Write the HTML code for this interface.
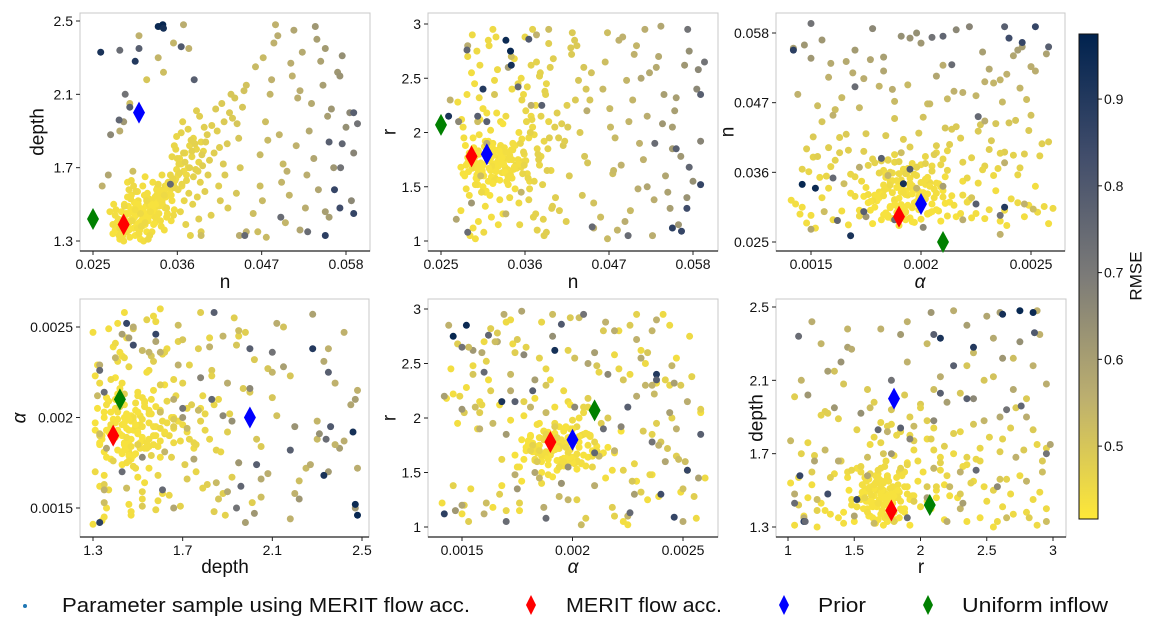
<!DOCTYPE html>
<html><head><meta charset="utf-8"><style>
html,body{margin:0;padding:0;background:#fff;}
svg{display:block;font-family:"Liberation Sans","DejaVu Sans",sans-serif;}
</style></head><body>
<svg id="fig" width="1154" height="629" viewBox="0 0 1154 629" xmlns="http://www.w3.org/2000/svg">
<defs>
<linearGradient id="cbgrad" x1="0" y1="1" x2="0" y2="0">
<stop offset="0" stop-color="#fee838"/><stop offset="0.25" stop-color="#bcaf6f"/><stop offset="0.5" stop-color="#7c7b78"/><stop offset="0.75" stop-color="#414d6b"/><stop offset="1" stop-color="#00224e"/>
</linearGradient>
</defs>
</svg>
<script>
// samples: [n, depth, r, alpha, rmse]
const samples = [
// tight cluster
[.0302,1.42,1.72,.00191,.43],[.0315,1.47,1.65,.00188,.43],[.0288,1.38,1.80,.00195,.43],[.0321,1.51,1.58,.00201,.44],[.0296,1.45,1.69,.00184,.43],
[.0333,1.55,1.76,.00197,.44],[.0279,1.36,1.62,.00178,.43],[.0310,1.40,1.85,.00205,.43],[.0325,1.48,1.74,.00193,.43],[.0291,1.50,1.67,.00212,.44],
[.0306,1.44,1.60,.00186,.43],[.0318,1.39,1.71,.00199,.43],[.0285,1.41,1.77,.00182,.43],[.0299,1.53,1.83,.00208,.44],[.0337,1.58,1.66,.00190,.44],
[.0312,1.46,1.55,.00176,.43],[.0294,1.35,1.73,.00203,.43],[.0328,1.52,1.88,.00187,.44],[.0304,1.43,1.63,.00196,.43],[.0283,1.37,1.70,.00209,.43],
[.0319,1.49,1.79,.00180,.43],[.0341,1.56,1.61,.00202,.44],[.0308,1.45,1.92,.00194,.43],[.0297,1.40,1.57,.00189,.43],[.0323,1.50,1.68,.00214,.44],
[.0289,1.33,1.75,.00185,.43],[.0314,1.47,1.82,.00198,.43],[.0301,1.42,1.64,.00207,.43],[.0331,1.54,1.72,.00183,.44],[.0293,1.39,1.86,.00192,.43],
[.0316,1.44,1.59,.00200,.43],[.0276,1.34,1.68,.00190,.43],[.0326,1.51,1.77,.00196,.44],[.0305,1.48,1.70,.00179,.43],[.0344,1.60,1.84,.00204,.45],
[.0298,1.41,1.52,.00193,.43],[.0311,1.36,1.74,.00211,.43],[.0287,1.46,1.81,.00187,.43],[.0322,1.43,1.66,.00174,.43],[.0309,1.52,1.90,.00199,.44],
[.0336,1.49,1.62,.00195,.44],[.0295,1.38,1.78,.00203,.43],[.0317,1.55,1.69,.00188,.44],[.0281,1.40,1.60,.00197,.43],[.0329,1.46,1.83,.00181,.44],
[.0303,1.37,1.71,.00192,.43],[.0320,1.53,1.56,.00206,.44],[.0292,1.44,1.95,.00185,.43],[.0313,1.41,1.67,.00213,.43],[.0339,1.57,1.75,.00190,.44],
[.0300,1.47,1.80,.00177,.43],[.0286,1.35,1.64,.00200,.43],[.0324,1.50,1.72,.00194,.44],[.0307,1.39,1.87,.00189,.43],[.0318,1.45,1.53,.00202,.43],
[.0290,1.42,1.73,.00216,.43],[.0334,1.59,1.68,.00184,.44],[.0311,1.48,1.78,.00198,.43],[.0297,1.36,1.61,.00193,.43],[.0327,1.44,1.85,.00207,.44],
[.0348,1.62,1.70,.00191,.45],[.0304,1.51,1.65,.00186,.43],[.0282,1.38,1.88,.00196,.43],[.0315,1.43,1.76,.00180,.43],[.0296,1.49,1.58,.00204,.43],
[.0330,1.47,1.63,.00199,.44],[.0309,1.34,1.81,.00188,.43],[.0321,1.56,1.69,.00210,.44],[.0293,1.45,1.74,.00183,.43],[.0340,1.52,1.79,.00195,.44],
// extra dense cluster
[.0332,1.50,1.71,.00192,.43],[.0345,1.54,1.66,.00186,.44],[.0328,1.47,1.80,.00201,.43],[.0351,1.58,1.75,.00195,.44],[.0336,1.52,1.62,.00189,.43],
[.0342,1.49,1.84,.00208,.44],[.0325,1.44,1.69,.00182,.43],[.0357,1.63,1.73,.00197,.45],[.0338,1.55,1.59,.00204,.44],[.0330,1.46,1.77,.00193,.43],
[.0347,1.60,1.88,.00187,.44],[.0322,1.41,1.64,.00199,.43],[.0353,1.52,1.70,.00211,.44],[.0335,1.57,1.82,.00185,.44],[.0327,1.49,1.56,.00196,.43],
[.0349,1.55,1.67,.00202,.44],[.0319,1.43,1.79,.00190,.43],[.0361,1.66,1.74,.00194,.45],[.0340,1.51,1.61,.00183,.44],[.0333,1.58,1.86,.00206,.44],
[.0355,1.61,1.68,.00198,.45],[.0324,1.46,1.73,.00179,.43],[.0344,1.48,1.90,.00200,.44],[.0337,1.53,1.65,.00209,.44],[.0329,1.39,1.76,.00191,.43],
[.0359,1.69,1.80,.00187,.45],[.0343,1.57,1.58,.00195,.44],[.0326,1.50,1.83,.00203,.43],[.0352,1.55,1.71,.00184,.44],[.0334,1.44,1.63,.00197,.43],
[.0365,1.72,1.95,.00192,.45],[.0370,1.78,2.05,.00205,.45],[.0376,1.82,1.85,.00188,.46],[.0368,1.68,2.15,.00198,.45],[.0381,1.86,1.78,.00210,.46],
[.0363,1.75,1.62,.00183,.45],[.0374,1.70,2.25,.00196,.45],[.0385,1.80,1.92,.00202,.46],[.0358,1.64,2.35,.00190,.45],[.0379,1.76,1.70,.00185,.46],
[.0391,1.84,2.10,.00207,.46],[.0366,1.60,1.55,.00194,.45],[.0388,1.73,2.45,.00188,.46],[.0372,1.66,1.98,.00200,.45],[.0394,1.79,1.65,.00212,.46],
[.0305,1.33,1.50,.00186,.43],[.0312,1.31,1.92,.00197,.43],[.0298,1.32,1.66,.00205,.43],[.0320,1.35,1.84,.00181,.43],[.0285,1.31,1.72,.00193,.43],
[.0347,1.45,1.48,.00189,.44],[.0352,1.41,2.00,.00203,.44],[.0339,1.38,1.60,.00196,.44],[.0356,1.47,1.94,.00184,.44],[.0343,1.36,1.75,.00207,.44],
[.0315,1.60,2.02,.00178,.44],[.0308,1.57,1.45,.00215,.44],[.0300,1.55,1.98,.00172,.44],[.0295,1.62,1.52,.00218,.44],[.0318,1.65,1.90,.00200,.44],
[.0328,1.62,2.10,.00192,.44],[.0340,1.66,1.40,.00186,.45],[.0331,1.40,2.08,.00210,.43],[.0314,1.38,1.42,.00177,.43],[.0346,1.43,1.68,.00219,.44],
[.0301,1.46,2.12,.00199,.43],[.0309,1.50,1.46,.00191,.43],[.0323,1.53,2.18,.00183,.44],[.0317,1.40,1.88,.00222,.43],[.0336,1.45,1.55,.00175,.44],
// low n / depth but wide r, alpha
[.0284,1.33,2.35,.00162,.44],[.0301,1.41,2.62,.00231,.45],[.0292,1.36,1.12,.00150,.44],[.0312,1.45,2.85,.00244,.45],[.0276,1.39,1.28,.00239,.44],
[.0320,1.52,2.48,.00155,.45],[.0288,1.31,1.05,.00223,.44],[.0305,1.47,2.22,.00146,.44],[.0297,1.58,2.75,.00253,.45],[.0327,1.35,1.38,.00168,.44],
[.0279,1.44,2.05,.00258,.44],[.0316,1.30,1.22,.00141,.44],[.0343,1.55,2.40,.00226,.45],[.0291,1.49,2.90,.00172,.45],[.0308,1.37,1.32,.00249,.44],
[.0335,1.61,2.15,.00158,.45],[.0283,1.42,1.48,.00236,.44],[.0324,1.33,2.58,.00219,.45],[.0299,1.53,1.18,.00164,.44],[.0272,1.46,2.28,.00152,.44],
[.0318,1.40,2.95,.00241,.45],[.0287,1.32,1.42,.00229,.44],[.0346,1.48,2.68,.00173,.45],[.0306,1.57,1.08,.00256,.45],[.0294,1.35,2.45,.00145,.44],
[.0331,1.43,1.25,.00234,.44],[.0277,1.50,2.12,.00167,.44],[.0313,1.38,2.80,.00221,.45],[.0352,1.59,1.35,.00154,.45],[.0290,1.30,2.55,.00247,.44],
[.0325,1.46,1.15,.00176,.44],[.0300,1.63,2.32,.00238,.45],[.0285,1.37,2.70,.00160,.45],[.0338,1.41,1.52,.00252,.44],[.0310,1.34,2.18,.00143,.44],
[.0295,1.54,1.02,.00225,.44],[.0355,1.44,2.50,.00233,.45],[.0280,1.47,1.95,.00148,.44],[.0322,1.31,2.88,.00170,.45],[.0303,1.60,1.45,.00260,.45],
// trend / medium
[.0362,1.72,2.10,.00205,.46],[.0378,1.85,1.75,.00182,.47],[.0351,1.66,2.45,.00221,.46],[.0395,1.92,1.30,.00167,.48],[.0368,1.78,2.62,.00198,.47],
[.0410,2.02,1.88,.00232,.49],[.0384,1.69,1.20,.00151,.47],[.0356,1.82,2.30,.00244,.46],[.0421,1.95,2.72,.00175,.49],[.0372,1.63,1.55,.00209,.46],
[.0399,1.88,2.05,.00158,.48],[.0435,2.08,1.42,.00227,.50],[.0360,1.75,2.88,.00186,.46],[.0389,1.98,1.65,.00247,.48],[.0415,1.81,2.25,.00163,.48],
[.0376,1.70,1.10,.00219,.47],[.0447,2.12,2.55,.00201,.51],[.0392,1.77,1.95,.00238,.48],[.0365,1.89,1.38,.00146,.47],[.0428,2.00,2.80,.00214,.49],
[.0381,1.65,2.15,.00178,.47],[.0405,1.93,1.28,.00255,.48],[.0358,1.80,1.82,.00193,.46],[.0440,1.86,2.40,.00155,.50],[.0370,1.73,2.95,.00229,.47],
[.0418,2.05,1.60,.00184,.49],[.0387,1.68,2.35,.00242,.47],[.0353,1.76,1.15,.00170,.46],[.0432,1.97,2.00,.00216,.49],[.0397,1.84,2.68,.00148,.48],
[.0366,1.61,1.48,.00235,.46],[.0412,1.90,1.92,.00192,.48],[.0379,1.79,2.52,.00161,.47],[.0450,2.15,1.35,.00250,.51],[.0402,1.74,2.18,.00207,.48],
[.0359,1.87,1.70,.00181,.46],[.0425,1.83,2.85,.00226,.49],[.0385,2.01,1.05,.00153,.48],[.0363,1.67,2.42,.00212,.46],[.0438,1.94,1.78,.00240,.50],
[.0393,1.71,2.60,.00174,.48],[.0374,1.91,1.25,.00202,.47],[.0408,1.78,2.08,.00258,.48],[.0354,1.64,1.90,.00157,.46],[.0445,2.03,2.30,.00188,.50],
[.0383,1.83,1.52,.00223,.47],[.0420,1.72,2.78,.00166,.49],[.0367,1.95,2.00,.00245,.47],[.0400,1.66,1.40,.00195,.48],[.0430,2.10,2.48,.00211,.50],
[.0361,1.58,2.20,.00149,.46],[.0390,1.62,1.85,.00236,.47],[.0375,1.56,2.65,.00179,.47],[.0414,1.60,1.18,.00218,.48],[.0386,1.54,2.38,.00254,.47],
[.0357,1.59,1.62,.00168,.46],[.0422,1.66,2.92,.00199,.49],[.0396,1.57,1.32,.00231,.48],[.0369,1.52,2.12,.00159,.46],[.0442,1.70,1.72,.00243,.50],
[.0380,1.50,2.55,.00185,.47],[.0404,1.44,1.95,.00213,.48],[.0371,1.39,1.22,.00176,.47],[.0426,1.48,2.30,.00249,.49],[.0391,1.35,2.82,.00163,.48],
[.0364,1.46,1.58,.00228,.46],[.0416,1.52,2.05,.00151,.49],[.0388,1.42,1.08,.00206,.48],[.0437,1.56,2.60,.00234,.50],[.0377,1.33,1.80,.00190,.47],
// scattered
[.0462,2.25,2.40,.00172,.53],[.0488,2.48,2.88,.00215,.55],[.0475,1.95,1.62,.00248,.52],[.0510,2.20,1.90,.00158,.55],[.0523,2.33,2.55,.00231,.57],
[.0498,1.72,1.28,.00194,.53],[.0535,2.05,2.70,.00166,.57],[.0547,2.28,1.45,.00257,.59],[.0556,1.98,2.20,.00142,.60],[.0468,1.60,2.92,.00203,.52],
[.0515,1.82,1.75,.00239,.55],[.0542,2.40,2.35,.00183,.60],[.0481,2.10,1.10,.00225,.54],[.0569,2.22,2.62,.00155,.62],[.0529,1.66,1.38,.00210,.56],
[.0493,1.88,2.48,.00245,.54],[.0553,2.35,1.85,.00170,.61],[.0472,2.30,2.05,.00188,.53],[.0506,1.55,2.80,.00236,.54],[.0580,1.92,1.55,.00198,.64],
[.0459,1.45,1.22,.00161,.52],[.0520,2.12,2.15,.00252,.56],[.0538,1.75,2.98,.00177,.58],[.0486,2.38,1.70,.00219,.55],[.0561,2.02,1.15,.00147,.62],
[.0501,1.40,2.30,.00233,.54],[.0575,2.31,2.75,.00191,.64],[.0478,1.85,1.95,.00164,.53],[.0544,1.58,1.60,.00242,.58],[.0512,2.45,2.50,.00207,.58],
[.0465,1.35,2.65,.00153,.52],[.0550,2.15,1.30,.00228,.60],[.0496,1.62,2.10,.00181,.54],[.0585,2.00,2.40,.00216,.66],[.0527,1.48,1.05,.00250,.56],
[.0483,2.18,2.85,.00144,.55],[.0564,1.70,1.78,.00200,.62],[.0508,2.27,1.48,.00174,.56],[.0471,1.52,2.22,.00237,.53],[.0532,1.90,2.60,.00159,.57],
[.0590,1.78,1.92,.00222,.67],[.0491,2.42,1.18,.00187,.56],[.0558,1.43,2.32,.00246,.60],[.0517,2.08,2.95,.00169,.56],[.0476,1.32,1.65,.00212,.53],
[.0572,2.20,1.40,.00195,.63],[.0503,1.68,2.72,.00229,.55],[.0540,2.47,2.08,.00150,.62],[.0468,1.77,1.02,.00204,.53],[.0587,1.52,2.58,.00178,.66],
[.0320,2.18,2.35,.00223,.50],[.0342,2.22,2.70,.00165,.52],[.0310,2.42,1.90,.00247,.55],[.0355,2.38,1.45,.00185,.54],[.0298,2.05,2.10,.00156,.52],
[.0375,2.35,2.90,.00238,.55],[.0335,2.30,1.25,.00198,.54],[.0368,2.48,2.25,.00172,.56],[.0285,1.90,2.80,.00219,.56],[.0302,1.68,1.60,.00251,.52],
[.0450,1.35,1.12,.00160,.55],[.0441,1.33,2.20,.00229,.56],[.0391,1.33,2.95,.00191,.52],[.0520,1.36,1.50,.00183,.58],[.0553,1.46,2.05,.00244,.60],
[.0270,1.66,1.20,.00150,.58],[.0262,1.60,2.30,.00236,.55],[.0338,2.47,2.60,.00210,.60],[.0290,1.95,1.35,.00175,.62],[.0273,1.88,2.10,.00201,.66],
// dark / high rmse
[.0260,2.33,2.15,.00168,.92],[.0335,2.47,2.85,.00152,.95],[.0341,2.48,2.75,.00146,.96],[.0342,2.46,2.62,.00192,.93],[.0305,2.28,2.40,.00238,.90],
[.0553,1.33,1.12,.00142,.88],[.0565,1.58,1.09,.00246,.86],[.0572,1.48,1.30,.00240,.84],[.0590,1.45,1.52,.00252,.86],[.0365,2.36,2.86,.00195,.80],
[.0284,1.96,2.76,.00162,.76],[.0298,2.03,2.15,.00174,.78],[.0310,2.35,2.10,.00225,.78],[.0590,2.00,2.35,.00238,.78],[.0575,1.83,1.68,.00210,.76],
[.0558,1.84,1.85,.00258,.78],[.0382,2.18,2.25,.00182,.78],[.0495,1.43,1.05,.00170,.74],[.0530,1.35,1.90,.00214,.74],[.0351,1.61,2.42,.00160,.75],
[.0292,2.10,1.78,.00236,.72],[.0448,1.33,1.13,.00226,.75],[.0595,1.94,2.65,.00150,.72],[.0573,1.70,2.95,.00205,.72],[.0285,2.34,1.08,.00188,.74]
];
const markerNames = ["MERIT flow acc.", "Prior", "Uniform inflow"];
const markerColors = ["#ff0000", "#0000ff", "#008000"];
const markerN = [0.0290, 0.0310, 0.0250];
const markerDepth = [1.39, 2.00, 1.42];
const markerR = [1.78, 1.80, 2.07];
const markerAlpha = [0.00190, 0.00200, 0.00210];
const nTicks = [0.025, 0.036, 0.047, 0.058];
const depthTicks = [1.3, 1.7, 2.1, 2.5];
const rTicks = [1, 1.5, 2, 2.5, 3];
const alphaTicks = [0.0015, 0.002, 0.0025];
const cbTicks = [0.5, 0.6, 0.7, 0.8, 0.9];
const rmseMin = 0.416, rmseMax = 0.975;

const NS = "http://www.w3.org/2000/svg";
const svg = document.getElementById("fig");
function mk(tag, attrs, parent) {
  const e = document.createElementNS(NS, tag);
  for (const k in attrs) e.setAttribute(k, attrs[k]);
  (parent || svg).appendChild(e);
  return e;
}
function lin(d0, d1, r0, r1) { return v => r0 + (v - d0) * (r1 - r0) / (d1 - d0); }
const cstops = [[0,[0,34,78]],[0.25,[65,77,107]],[0.5,[124,123,120]],[0.75,[188,175,111]],[1,[254,232,56]]];
function cmap(v) {
  let t = 1 - (v - rmseMin) / (rmseMax - rmseMin);
  t = Math.max(0, Math.min(1, t));
  for (let i = 0; i < cstops.length - 1; i++) {
    const a = cstops[i], b = cstops[i+1];
    if (t <= b[0]) {
      const f = (t - a[0]) / (b[0] - a[0]);
      const c = a[1].map((x, j) => Math.round(x + f * (b[1][j] - x)));
      return "rgb(" + c.join(",") + ")";
    }
  }
  return "rgb(254,232,56)";
}
function fmt(v) { return String(v); }
const markerCols = [markerN, markerDepth, markerR, markerAlpha];
const panels = [
  {name:"n-vs-depth", L:80,R:370,T:13,B:251, xi:0, yi:1, xd:[0.025,0.058], xr:[93,346], yd:[2.5,1.3], yr:[21,241], xt:nTicks, yt:depthTicks, xl:"n", yl:"depth", xlx:225, xly:288, ylx:38},
  {name:"n-vs-r", L:428,R:718,T:13,B:251, xi:0, yi:2, xd:[0.025,0.058], xr:[441,693], yd:[3,1], yr:[24,241], xt:nTicks, yt:rTicks, xl:"n", yl:"r", xlx:573, xly:288, ylx:390},
  {name:"alpha-vs-n", L:776,R:1065,T:13,B:251, xi:3, yi:0, xd:[0.0015,0.0025], xr:[811,1031], yd:[0.058,0.025], yr:[33,242], xt:alphaTicks, yt:nTicks, xl:"α", yl:"n", xlx:920, xly:288, ylx:728},
  {name:"depth-vs-alpha", L:80,R:369,T:299,B:537, xi:1, yi:3, xd:[1.3,2.5], xr:[93,362], yd:[0.0025,0.0015], yr:[327,508], xt:depthTicks, yt:alphaTicks, xl:"depth", yl:"α", xlx:225, xly:573, ylx:20},
  {name:"alpha-vs-r", L:428,R:718,T:299,B:537, xi:3, yi:2, xd:[0.0015,0.0025], xr:[462,683], yd:[3,1], yr:[309,527], xt:alphaTicks, yt:rTicks, xl:"α", yl:"r", xlx:573, xly:573, ylx:390},
  {name:"r-vs-depth", L:776,R:1066,T:299,B:537, xi:2, yi:1, xd:[1,3], xr:[788,1053], yd:[2.5,1.3], yr:[307,527], xt:rTicks, yt:depthTicks, xl:"r", yl:"depth", xlx:921, xly:573, ylx:757}
];
panels.forEach(p => {
  const g = mk("g", {});
  
  
  const sx = lin(p.xd[0], p.xd[1], p.xr[0], p.xr[1]);
  const sy = lin(p.yd[0], p.yd[1], p.yr[0], p.yr[1]);
  const fr = mk("rect", {x:p.L, y:p.T, width:p.R-p.L, height:p.B-p.T, fill:"#fff", stroke:"#c8c8c8", "stroke-width":1}, g);
  
  
  mk("line", {x1:p.L, x2:p.R, y1:p.B, y2:p.B, stroke:"#222", "stroke-width":1.2}, g);
  const pts = mk("g", {}, g);
  
  
  samples.forEach(s => {
    const c = mk("circle", {cx:sx(s[p.xi]).toFixed(1), cy:sy(s[p.yi]).toFixed(1), r:3.5, fill:cmap(s[4])}, pts);
    
    
  });
  markerNames.forEach((nm, i) => {
    const x = sx(markerCols[p.xi][i]), y = sy(markerCols[p.yi][i]);
    const d = mk("polygon", {points:`${x},${y-11} ${x+6},${y} ${x},${y+11} ${x-6},${y}`, fill:markerColors[i]}, g);
    
    
  });
  p.xt.forEach(t => {
    const x = sx(t);
    mk("line", {x1:x, x2:x, y1:p.B, y2:p.B+4, stroke:"#222"}, g);
    const tx = mk("text", {x:x, y:p.B+18, "font-size":14, "text-anchor":"middle", fill:"#111"}, g);
    tx.textContent = fmt(t);
    
    
  });
  p.yt.forEach(t => {
    const y = sy(t);
    mk("line", {x1:p.L-4, x2:p.L, y1:y, y2:y, stroke:"#222"}, g);
    const tx = mk("text", {x:p.L-7, y:y+5, "font-size":14, "text-anchor":"end", fill:"#111"}, g);
    tx.textContent = fmt(t);
    
    
  });
  const xl = mk("text", {x:p.xlx, y:p.xly, "font-size":19, "text-anchor":"middle", fill:"#111", "font-style": p.xl==="α"?"italic":"normal"}, g);
  xl.textContent = p.xl;
  
  
  const yc = (p.T + p.B) / 2;
  const yl = mk("text", {x:p.ylx, y:yc, "font-size":19, "text-anchor":"middle", fill:"#111", transform:`rotate(-90 ${p.ylx} ${yc})`, "dominant-baseline":"central", "font-style": p.yl==="α"?"italic":"normal"}, g);
  yl.textContent = p.yl;
  
  
});
// colorbar
const cb = mk("g", {});


const cbTop = 34, cbBot = 519;
mk("rect", {x:1079, y:cbTop, width:19, height:cbBot-cbTop, fill:"url(#cbgrad)", stroke:"#111", "stroke-width":1}, cb);
const cy = lin(rmseMin, rmseMax, cbBot, cbTop);
cbTicks.forEach(t => {
  const y = cy(t);
  mk("line", {x1:1098, x2:1102, y1:y, y2:y, stroke:"#111"}, cb);
  const tx = mk("text", {x:1104, y:y+5, "font-size":14, fill:"#111"}, cb);
  tx.textContent = fmt(t);
  
  
});
const ct = mk("text", {x:1136, y:276, "font-size":17, "text-anchor":"middle", fill:"#111", transform:"rotate(-90 1136 276)", "dominant-baseline":"central"}, cb);
ct.textContent = "RMSE";


// legend
const lg = mk("g", {});


const e0 = mk("circle", {cx:25, cy:606, r:2, fill:"#1f77b4"}, lg);


const legText = [["Parameter sample using MERIT flow acc.", 62, 408]];
const legMarkerX = [531, 784, 928];
const legTextX = [566, 818, 962];
const legTextW = [156, 48, 146];
markerNames.forEach((nm, i) => {
  const x = legMarkerX[i], y = 605;
  const d = mk("polygon", {points:`${x},${y-10} ${x+5},${y} ${x},${y+10} ${x-5},${y}`, fill:markerColors[i]}, lg);
  
  
  legText.push([nm, legTextX[i], legTextW[i]]);
});
legText.forEach(t => {
  const tx = mk("text", {x:t[1], y:612, "font-size":20, fill:"#111", textLength:t[2], lengthAdjust:"spacingAndGlyphs"}, lg);
  tx.textContent = t[0];
  
  
});
</script>
</body></html>
